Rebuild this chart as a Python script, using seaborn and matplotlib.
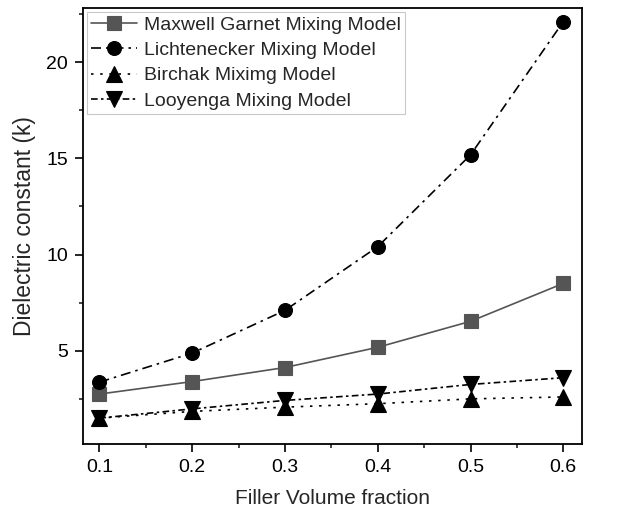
import numpy as np
import pandas as pd
import matplotlib
matplotlib.use("Agg")
import matplotlib.pyplot as plt
from matplotlib.ticker import MultipleLocator
import seaborn as sns

# values
fraction = [0.1, 0.2, 0.3, 0.4, 0.5, 0.6]
maxwell = [2.75, 3.40, 4.13, 5.18, 6.53, 8.50]
lichtenecker = [3.37, 4.88, 7.10, 10.41, 15.18, 22.10]
birchak = [1.50, 1.85, 2.07, 2.25, 2.50, 2.60]
looyenga = [1.50, 1.98, 2.42, 2.75, 3.25, 3.60]

labels = ["Maxwell Garnet Mixing Model", "Lichtenecker Mixing Model",
          "Birchak Miximg Model", "Looyenga Mixing Model"]
series = [maxwell, lichtenecker, birchak, looyenga]

sns.set_style("ticks")
plt.rcParams['font.family'] = ['Liberation Sans', 'DejaVu Sans']

fig = plt.figure(figsize=(6.27, 5.14), dpi=100)
ax = fig.add_axes([0.132, 0.136, 0.796, 0.848])

styles = [
    dict(color="#555555", marker="s", linestyle="-", ms=9.5),
    dict(color="black", marker="o", linestyle=(0, (6, 3, 1.5, 3)), ms=10),
    dict(color="black", marker="^", linestyle=(0, (1.5, 4)), ms=12),
    dict(color="black", marker="v", linestyle=(0, (4, 2, 1.5, 2)), ms=12),
]

for lab, vals, st in zip(labels, series, styles):
    df = pd.DataFrame({"x": fraction, "y": vals})
    sns.lineplot(data=df, x="x", y="y", ax=ax, label=lab,
                 color=st["color"], marker=st["marker"],
                 linestyle=st["linestyle"], markersize=st["ms"],
                 linewidth=1.2, markeredgecolor=st["color"],
                 markeredgewidth=0.8)

ax.set_xlim(0.082, 0.62)
ax.set_ylim(0.15, 22.8)
ax.xaxis.set_major_locator(MultipleLocator(0.1))
ax.xaxis.set_minor_locator(MultipleLocator(0.05))
ax.yaxis.set_major_locator(MultipleLocator(5))
ax.yaxis.set_minor_locator(MultipleLocator(2.5))
ax.tick_params(which="major", direction="out", length=5.8, width=1.2,
               labelsize=14, pad=5, colors="black")
ax.tick_params(which="minor", direction="out", length=3, width=1.2)
for sp in ax.spines.values():
    sp.set_linewidth(1.3)
    sp.set_color("black")

ax.set_xlabel("Filler Volume fraction", fontsize=15, labelpad=9)
ax.set_ylabel("Dielectric constant (k)", fontsize=16.5, labelpad=7)

leg = ax.legend(loc="upper left", fontsize=14, frameon=True, fancybox=False,
                edgecolor="#bbbbbb", handlelength=2.4, handletextpad=0.36,
                borderaxespad=0.2, labelspacing=0.4, borderpad=0.2)
leg.get_frame().set_linewidth(0.8)

fig.savefig("out.png", dpi=100)
